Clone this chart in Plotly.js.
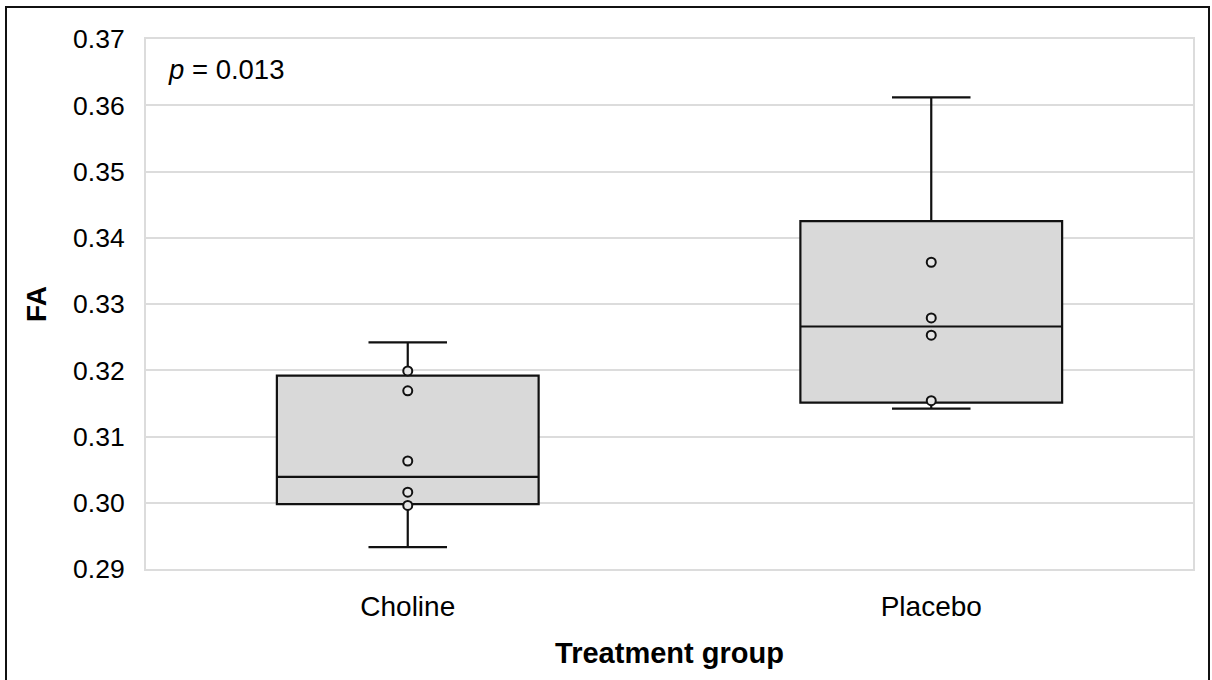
<!DOCTYPE html>
<html>
<head>
<meta charset="utf-8">
<script src="https://cdn.plot.ly/plotly-3.0.1.min.js"></script>
<style>
  html, body { margin: 0; padding: 0; background: #fff; }
  #chart { position: absolute; left: 0; top: 0; width: 1212px; height: 680px; }
  #frame { position: absolute; left: 5px; top: 6px; width: 1201px; height: 680px; border: 2px solid #111; pointer-events: none; }
</style>
</head>
<body>
<div id="chart"></div>
<div id="frame"></div>
<script>
// Box summary statistics
const groups      = ['Choline', 'Placebo'];
const q1          = [0.2998, 0.3151];
const medians     = [0.3039, 0.3266];
const q3          = [0.3192, 0.3425];
const lowerFences = [0.2933, 0.3142];
const upperFences = [0.3242, 0.3612];

// Individual observations
const cholinePoints = [0.3199, 0.3169, 0.3063, 0.3016, 0.2996];
const placeboPoints = [0.3363, 0.3279, 0.3253, 0.3154];

// Tick values
const yTicks = [0.29, 0.30, 0.31, 0.32, 0.33, 0.34, 0.35, 0.36, 0.37];
const yTickText = ['0.29', '0.30', '0.31', '0.32', '0.33', '0.34', '0.35', '0.36', '0.37'];

const pointX = cholinePoints.map(() => groups[0]).concat(placeboPoints.map(() => groups[1]));
const pointY = cholinePoints.concat(placeboPoints);

const FONT = 'Liberation Sans, Arial, sans-serif';

const traces = [
  {
    type: 'box',
    x: groups,
    q1: q1,
    median: medians,
    q3: q3,
    lowerfence: lowerFences,
    upperfence: upperFences,
    boxpoints: false,
    width: 0.5,
    fillcolor: '#d9d9d9',
    line: { color: '#111111', width: 2.2 },
    whiskerwidth: 0.3,
    hoverinfo: 'skip',
    showlegend: false
  },
  {
    type: 'scatter',
    mode: 'markers',
    x: pointX,
    y: pointY,
    marker: { symbol: 'circle', size: 9, color: '#e6e6e6', line: { color: '#111111', width: 2 } },
    hoverinfo: 'skip',
    showlegend: false
  }
];

const layout = {
  width: 1212,
  height: 680,
  margin: { l: 146, r: 19, t: 39, b: 111 },
  paper_bgcolor: '#ffffff',
  plot_bgcolor: '#ffffff',
  font: { family: FONT, color: '#000000' },
  xaxis: {
    type: 'category',
    categoryorder: 'array',
    categoryarray: groups,
    range: [-0.5, 1.5],
    showgrid: false,
    zeroline: false,
    showline: true,
    mirror: true,
    linecolor: '#dcdcdc',
    linewidth: 2,
    ticks: '',
    ticklabelstandoff: 11,
    tickfont: { family: FONT, size: 28, color: '#000000' },
    title: { text: '<b>Treatment group</b>', font: { family: FONT, size: 29, color: '#000000' }, standoff: 22 }
  },
  yaxis: {
    range: [0.29, 0.37],
    tickvals: yTicks,
    ticktext: yTickText,
    showgrid: true,
    gridcolor: '#dcdcdc',
    gridwidth: 2,
    zeroline: false,
    showline: true,
    mirror: true,
    linecolor: '#dcdcdc',
    linewidth: 2,
    ticks: '',
    ticklabelstandoff: 14,
    tickfont: { family: FONT, size: 26.5, color: '#000000' },
    title: { text: '<b>FA</b>', font: { family: FONT, size: 28, color: '#000000' }, standoff: 18 }
  },
  shapes: [
    {
      type: 'rect', layer: 'between',
      xref: 'paper', yref: 'y',
      x0: 0.002, x1: 0.173, y0: 0.3595, y1: 0.3698,
      fillcolor: '#ffffff', line: { width: 0 }
    }
  ],
  annotations: [
    {
      xref: 'paper', yref: 'paper',
      x: 0.019, y: 0.943,
      xanchor: 'left', yanchor: 'middle',
      text: '<i>p</i> = 0.013',
      showarrow: false,
      font: { family: FONT, size: 27.5, color: '#000000' }
    }
  ]
};

Plotly.newPlot('chart', traces, layout, { displayModeBar: false, staticPlot: true });
</script>
</body>
</html>
